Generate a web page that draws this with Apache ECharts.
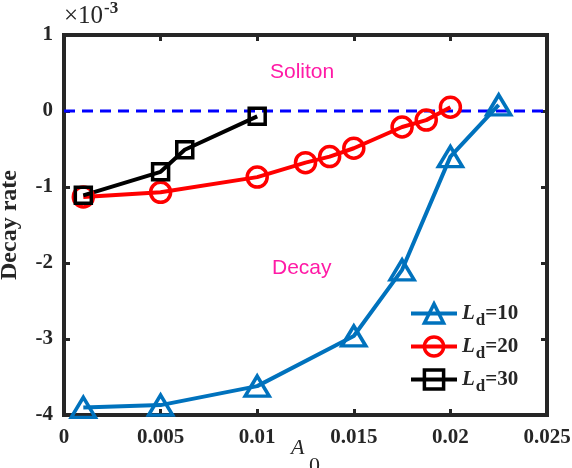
<!DOCTYPE html>
<html><head><meta charset="utf-8">
<script src="https://cdn.jsdelivr.net/npm/echarts@6/dist/echarts.min.js"></script>
<style>html,body{margin:0;padding:0;background:#fff}#c{width:572px;height:468px}</style>
</head><body><div id="c"></div>
<script>
// A_0 values and decay rates (units of 1e-3)
const x10 = [0.001, 0.005, 0.01, 0.015, 0.0175, 0.02, 0.0225];
const y10 = [-3.9, -3.87, -3.62, -2.96, -2.09, -0.6, 0.08];
const x20 = [0.001, 0.005, 0.01, 0.0125, 0.01375, 0.015, 0.0175, 0.01875, 0.02];
const y20 = [-1.13, -1.07, -0.87, -0.68, -0.6, -0.49, -0.21, -0.12, 0.05];
const x30 = [0.001, 0.005, 0.00625, 0.01];
const y30 = [-1.11, -0.8, -0.51, -0.07];
const refX = [0, 0.025];
const refY = [0, 0];
const seriesNames = ['Ld=10', 'Ld=20', 'Ld=30'];
const xTicks = {min: 0, max: 0.025, interval: 0.005};
const yTicks = {min: -4, max: 1, interval: 1};

const zip = (a, b) => a.map((v, i) => [v, b[i]]);
const tc = '#262626';
const serif = 'Liberation Serif';
const tickFont = {fontFamily: serif, fontWeight: 'bold', fontSize: 21, color: tc};

function axisBase(extra) {
  return Object.assign({
    type: 'value',
    axisLine: {show: false, onZero: false},
    axisTick: {show: true, inside: true, length: 6, lineStyle: {color: tc, width: 3}},
    splitLine: {show: false}
  }, extra);
}

const chart = echarts.init(document.getElementById('c'), null, {renderer: 'canvas'});
const mk = (name, xs, ys, color, symbol, size) => ({
  name, type: 'line', data: zip(xs, ys), symbol, symbolSize: size, showAllSymbol: true,
  lineStyle: {color, width: 4},
  itemStyle: {color: 'rgba(255,255,255,0)', borderColor: color, borderWidth: 3.5},
  emphasis: {disabled: true}, animation: false, z: 3
});
chart.setOption({
  animation: false,
  grid: {left: 64, right: 25, top: 35, bottom: 53, show: true, borderColor: tc, borderWidth: 4,
         containLabel: false, outerBoundsMode: 'none'},
  xAxis: [
    axisBase(Object.assign({position: 'bottom', axisLabel: Object.assign({margin: 12}, tickFont)}, xTicks)),
    axisBase(Object.assign({position: 'top', axisLabel: {show: false}}, xTicks))
  ],
  yAxis: [
    axisBase(Object.assign({position: 'left', axisLabel: Object.assign({margin: 11}, tickFont),
      name: 'Decay rate', nameLocation: 'middle', nameRotate: 90, nameGap: 42,
      nameTextStyle: {fontFamily: serif, fontWeight: 'bold', fontSize: 24, color: tc}}, yTicks)),
    axisBase(Object.assign({position: 'right', axisLabel: {show: false}}, yTicks))
  ],
  legend: {
    data: seriesNames, orient: 'vertical', left: 404, top: 293,
    itemWidth: 46, itemHeight: 24, itemGap: 2,
    lineStyle: {width: 4},
    itemStyle: {borderWidth: 3.5},
    formatter: n => '{L|L}{d|d}{t|=' + n.slice(3) + '}',
    textStyle: {
      color: tc,
      rich: {
        L: {fontFamily: serif, fontStyle: 'italic', fontWeight: 'bold', fontSize: 21, lineHeight: 26, verticalAlign: 'middle'},
        d: {fontFamily: serif, fontWeight: 'bold', fontSize: 17, lineHeight: 26, padding: [14, 0, 0, 1]},
        t: {fontFamily: serif, fontWeight: 'bold', fontSize: 21, lineHeight: 26}
      }
    }
  },
  series: [
    {name: 'ref', type: 'line', data: zip(refX, refY), symbol: 'none',
     lineStyle: {color: '#0000ff', width: 3, type: [11, 7]}, z: 2, emphasis: {disabled: true}},
    mk('Ld=10', x10, y10, '#0072BD', 'triangle', [24, 20]),
    mk('Ld=20', x20, y20, '#FF0000', 'circle', 20),
    mk('Ld=30', x30, y30, '#000000', 'rect', 16)
  ],
  graphic: [
    {type: 'text', left: 64, top: 4, style: {text: '×10', fontFamily: serif, fontSize: 25, fill: tc}},
    {type: 'text', left: 104, top: 0, style: {text: '-3', fontFamily: serif, fontWeight: 'bold', fontSize: 17, fill: tc}},
    {type: 'text', left: 270, top: 62, style: {text: 'Soliton', fontFamily: 'Liberation Sans', fontSize: 21, fill: '#FF1AA6'}},
    {type: 'text', left: 272, top: 258, style: {text: 'Decay', fontFamily: 'Liberation Sans', fontSize: 21, fill: '#FF1AA6'}},
    {type: 'text', left: 291, top: 437, style: {text: 'A', fontFamily: serif, fontStyle: 'italic', fontSize: 22, fill: tc}},
    {type: 'text', left: 309, top: 455, style: {text: '0', fontFamily: serif, fontSize: 22, fill: tc}}
  ]
});
</script></body></html>
